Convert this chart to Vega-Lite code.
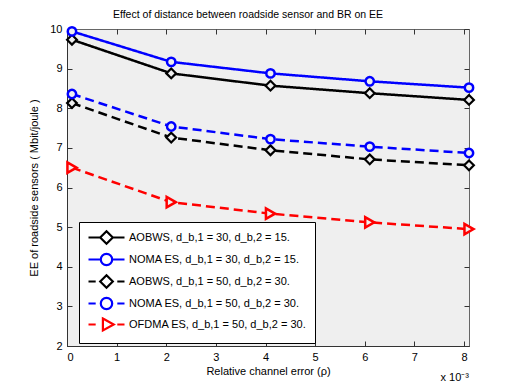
{
  "$schema": "https://vega.github.io/schema/vega-lite/v6.json",
  "width": 402,
  "height": 317,
  "autosize": {"type": "none"},
  "padding": {"left": 67, "top": 29, "right": 49, "bottom": 43},
  "background": "white",
  "title": {"text": "Effect of distance between roadside sensor and BR on EE", "fontSize": 10.5, "fontWeight": "normal", "font": "Liberation Sans", "color": "black", "offset": 2, "anchor": "middle", "dx": -20},
  "data": {"values": [
    {"series": "AOBWS, d_b,1 = 30, d_b,2 = 15.", "x": 0.1, "y": 9.73},
    {"series": "AOBWS, d_b,1 = 30, d_b,2 = 15.", "x": 2.1, "y": 8.88},
    {"series": "AOBWS, d_b,1 = 30, d_b,2 = 15.", "x": 4.1, "y": 8.57},
    {"series": "AOBWS, d_b,1 = 30, d_b,2 = 15.", "x": 6.1, "y": 8.38},
    {"series": "AOBWS, d_b,1 = 30, d_b,2 = 15.", "x": 8.1, "y": 8.21},
    {"series": "NOMA ES, d_b,1 = 30, d_b,2 = 15.", "x": 0.1, "y": 9.94},
    {"series": "NOMA ES, d_b,1 = 30, d_b,2 = 15.", "x": 2.1, "y": 9.17},
    {"series": "NOMA ES, d_b,1 = 30, d_b,2 = 15.", "x": 4.1, "y": 8.88},
    {"series": "NOMA ES, d_b,1 = 30, d_b,2 = 15.", "x": 6.1, "y": 8.68},
    {"series": "NOMA ES, d_b,1 = 30, d_b,2 = 15.", "x": 8.1, "y": 8.52},
    {"series": "AOBWS, d_b,1 = 50, d_b,2 = 30.", "x": 0.1, "y": 8.13},
    {"series": "AOBWS, d_b,1 = 50, d_b,2 = 30.", "x": 2.1, "y": 7.26},
    {"series": "AOBWS, d_b,1 = 50, d_b,2 = 30.", "x": 4.1, "y": 6.94},
    {"series": "AOBWS, d_b,1 = 50, d_b,2 = 30.", "x": 6.1, "y": 6.71},
    {"series": "AOBWS, d_b,1 = 50, d_b,2 = 30.", "x": 8.1, "y": 6.56},
    {"series": "NOMA ES, d_b,1 = 50, d_b,2 = 30.", "x": 0.1, "y": 8.36},
    {"series": "NOMA ES, d_b,1 = 50, d_b,2 = 30.", "x": 2.1, "y": 7.54},
    {"series": "NOMA ES, d_b,1 = 50, d_b,2 = 30.", "x": 4.1, "y": 7.22},
    {"series": "NOMA ES, d_b,1 = 50, d_b,2 = 30.", "x": 6.1, "y": 7.03},
    {"series": "NOMA ES, d_b,1 = 50, d_b,2 = 30.", "x": 8.1, "y": 6.87},
    {"series": "OFDMA ES, d_b,1 = 50, d_b,2 = 30.", "x": 0.1, "y": 6.50},
    {"series": "OFDMA ES, d_b,1 = 50, d_b,2 = 30.", "x": 2.1, "y": 5.63},
    {"series": "OFDMA ES, d_b,1 = 50, d_b,2 = 30.", "x": 4.1, "y": 5.34},
    {"series": "OFDMA ES, d_b,1 = 50, d_b,2 = 30.", "x": 6.1, "y": 5.12},
    {"series": "OFDMA ES, d_b,1 = 50, d_b,2 = 30.", "x": 8.1, "y": 4.95}
  ]},
  "resolve": {"axis": {"x": "independent", "y": "independent"}, "legend": {"color": "independent", "shape": "independent", "strokeDash": "independent"}},
  "config": {
    "view": {"fill": "#efefef", "stroke": "#666666", "strokeWidth": 1},
    "font": "Liberation Sans",
    "axis": {"labelFont": "Liberation Sans", "labelFontSize": 11, "labelColor": "black", "titleFont": "Liberation Sans", "titleFontSize": 11, "titleFontWeight": "normal", "titleColor": "black", "domainColor": "#333333", "tickColor": "#333333", "tickSize": -5, "labelPadding": 10, "grid": false},
    "legend": {"orient": "none", "legendX": 12, "legendY": 193, "strokeColor": "black", "fillColor": "white", "padding": 8, "cornerRadius": 0, "labelFont": "Liberation Sans", "labelFontSize": 11, "labelColor": "black", "labelLimit": 300, "symbolSize": 144, "symbolStrokeWidth": 2.2, "symbolOpacity": 1, "labelOffset": 27, "rowPadding": 0, "title": null}
  },
  "layer": [
    {
      "mark": {"type": "line", "strokeWidth": 2.5},
      "encoding": {
        "x": {"field": "x", "type": "quantitative", "scale": {"domain": [0, 8.1], "nice": false, "zero": false}, "axis": {"orient": "bottom", "values": [0, 1, 2, 3, 4, 5, 6, 7, 8], "format": "d", "title": "Relative channel error (ρ)", "titlePadding": 3}},
        "y": {"field": "y", "type": "quantitative", "scale": {"domain": [2, 10], "nice": false, "zero": false}, "axis": {"orient": "left", "values": [2, 3, 4, 5, 6, 7, 8, 9, 10], "title": "EE of roadside sensors ( Mbit/joule )", "titlePadding": 10}},
        "color": {"field": "series", "type": "nominal", "scale": {"domain": ["AOBWS, d_b,1 = 30, d_b,2 = 15.", "NOMA ES, d_b,1 = 30, d_b,2 = 15.", "AOBWS, d_b,1 = 50, d_b,2 = 30.", "NOMA ES, d_b,1 = 50, d_b,2 = 30.", "OFDMA ES, d_b,1 = 50, d_b,2 = 30."], "range": ["#000000", "#0000ff", "#000000", "#0000ff", "#ff0000"]}, "legend": null},
        "strokeDash": {"field": "series", "type": "nominal", "scale": {"domain": ["AOBWS, d_b,1 = 30, d_b,2 = 15.", "NOMA ES, d_b,1 = 30, d_b,2 = 15.", "AOBWS, d_b,1 = 50, d_b,2 = 30.", "NOMA ES, d_b,1 = 50, d_b,2 = 30.", "OFDMA ES, d_b,1 = 50, d_b,2 = 30."], "range": [[1, 0], [1, 0], [9, 5], [9, 5], [9, 5]]}, "legend": null}
      }
    },
    {
      "transform": [{"filter": "indexof(datum.series, 'AOBWS') === 0"}],
      "mark": {"type": "point", "shape": "diamond", "filled": false, "fill": "#efefef", "size": 95, "strokeWidth": 2.2, "opacity": 1},
      "encoding": {
        "x": {"field": "x", "type": "quantitative", "axis": null},
        "y": {"field": "y", "type": "quantitative", "axis": null},
        "color": {"field": "series", "type": "nominal", "legend": null}
      }
    },
    {
      "transform": [{"filter": "indexof(datum.series, 'NOMA') === 0"}],
      "mark": {"type": "point", "shape": "circle", "filled": false, "fill": "#efefef", "size": 70, "strokeWidth": 2.5, "opacity": 1},
      "encoding": {
        "x": {"field": "x", "type": "quantitative", "axis": null},
        "y": {"field": "y", "type": "quantitative", "axis": null},
        "color": {"field": "series", "type": "nominal", "legend": null}
      }
    },
    {
      "transform": [{"filter": "indexof(datum.series, 'OFDMA') === 0"}],
      "mark": {"type": "point", "shape": "triangle-right", "filled": false, "fill": "#efefef", "size": 110, "strokeWidth": 2.5, "opacity": 1},
      "encoding": {
        "x": {"field": "x", "type": "quantitative", "axis": null},
        "y": {"field": "y", "type": "quantitative", "axis": null},
        "color": {"field": "series", "type": "nominal", "legend": null}
      }
    },
    {
      "mark": {"type": "point", "opacity": 0, "filled": false, "strokeWidth": 2.2},
      "encoding": {
        "x": {"field": "x", "type": "quantitative", "axis": {"orient": "top", "labels": false, "title": null, "domain": false, "values": [0, 1, 2, 3, 4, 5, 6, 7, 8]}},
        "y": {"field": "y", "type": "quantitative", "axis": {"orient": "right", "labels": false, "title": null, "domain": false, "values": [2, 3, 4, 5, 6, 7, 8, 9, 10]}},
        "color": {"field": "series", "type": "nominal"},
        "shape": {"field": "series", "type": "nominal", "scale": {"domain": ["AOBWS, d_b,1 = 30, d_b,2 = 15.", "NOMA ES, d_b,1 = 30, d_b,2 = 15.", "AOBWS, d_b,1 = 50, d_b,2 = 30.", "NOMA ES, d_b,1 = 50, d_b,2 = 30.", "OFDMA ES, d_b,1 = 50, d_b,2 = 30."], "range": [
          "M-1,0H1M3,0H5M2,-1.05L3.05,0L2,1.05L0.95,0Z",
          "M-1,0H1.1M2.9,0H5M2.95,0A0.95,0.95,0,1,1,1.05,0A0.95,0.95,0,1,1,2.95,0Z",
          "M-1,0H0.2M3.8,0H5M2,-1.05L3.05,0L2,1.05L0.95,0Z",
          "M-1,0H0.2M3.8,0H5M2.95,0A0.95,0.95,0,1,1,1.05,0A0.95,0.95,0,1,1,2.95,0Z",
          "M-1,0H0.2M3.8,0H5M1.4,-1L3.2,0L1.4,1Z"
        ]}}
      }
    },
    {
      "data": {"values": [{}]},
      "mark": {"type": "text", "text": "x 10⁻³", "align": "right", "baseline": "middle", "dy": 32, "fontSize": 11, "font": "Liberation Sans", "color": "black"},
      "encoding": {
        "x": {"datum": 8.1, "type": "quantitative", "axis": null},
        "y": {"datum": 2, "type": "quantitative", "axis": null}
      }
    }
  ]
}
